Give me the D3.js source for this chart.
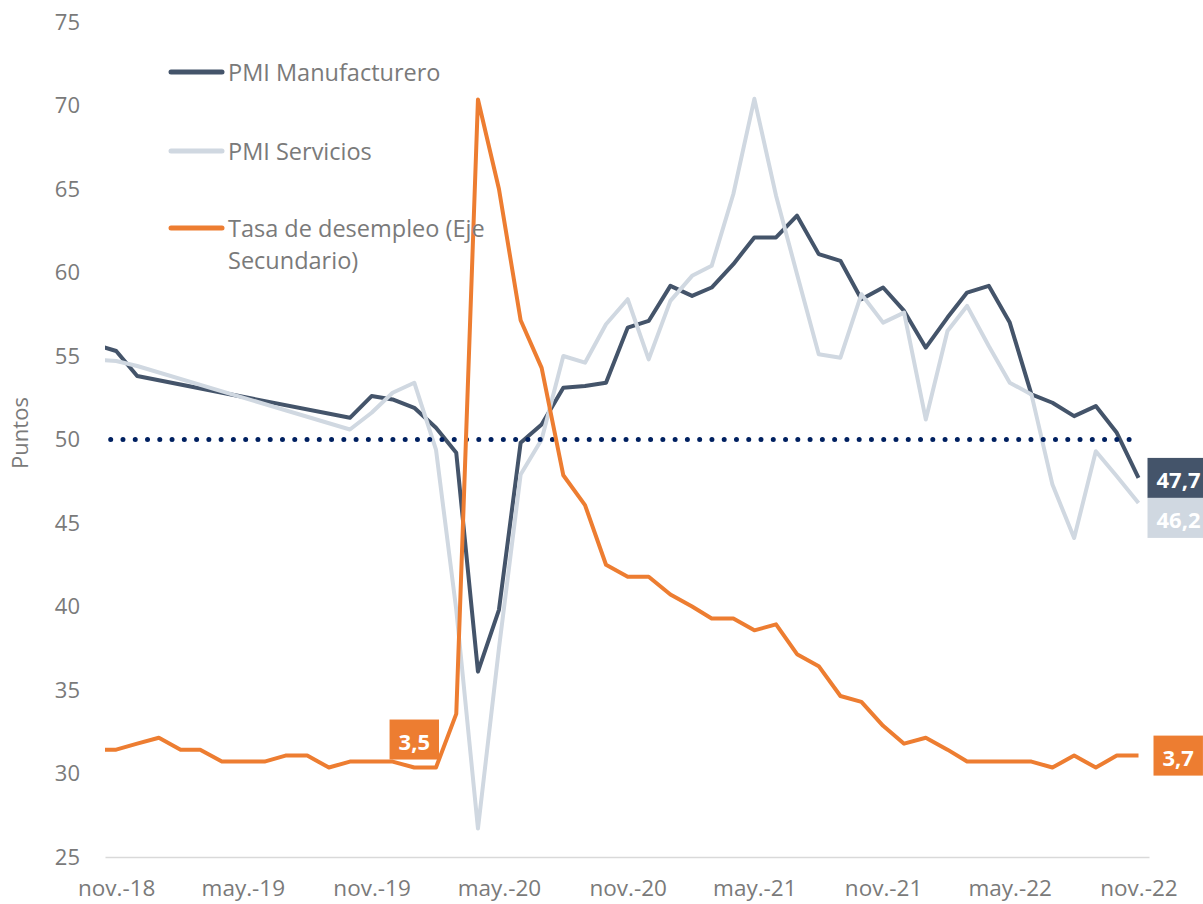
<!DOCTYPE html>
<html>
<head>
<meta charset="utf-8">
<script src="https://cdn.jsdelivr.net/npm/d3@7"></script>
<style>
  html, body { margin: 0; padding: 0; background: #ffffff; }
  svg { display: block; font-family: "Open Sans", "Noto Sans", sans-serif; }
</style>
</head>
<body>
<svg id="chart" width="1203" height="904"></svg>
<script>
// ---------- DATA ----------
const months = [
  "2018-10","2018-11","2018-12","2019-01","2019-02","2019-03","2019-04","2019-05","2019-06","2019-07",
  "2019-08","2019-09","2019-10","2019-11","2019-12","2020-01","2020-02","2020-03","2020-04","2020-05",
  "2020-06","2020-07","2020-08","2020-09","2020-10","2020-11","2020-12","2021-01","2021-02","2021-03",
  "2021-04","2021-05","2021-06","2021-07","2021-08","2021-09","2021-10","2021-11","2021-12","2022-01",
  "2022-02","2022-03","2022-04","2022-05","2022-06","2022-07","2022-08","2022-09","2022-10","2022-11"
];
const pmiManufacturero = [
  55.7, 55.3, 53.8, null, null, null, null, null, null, null,
  null, null, 51.3, 52.6, 52.4, 51.9, 50.7, 49.2, 36.1, 39.8,
  49.8, 50.9, 53.1, 53.2, 53.4, 56.7, 57.1, 59.2, 58.6, 59.1,
  60.5, 62.1, 62.1, 63.4, 61.1, 60.7, 58.4, 59.1, 57.7, 55.5,
  57.3, 58.8, 59.2, 57.0, 52.7, 52.2, 51.4, 52.0, 50.4, 47.7
];
const pmiServicios = [
  54.8, 54.7, 54.4, null, null, null, null, null, null, null,
  null, null, 50.6, 51.6, 52.8, 53.4, 49.4, 39.8, 26.7, 37.5,
  47.9, 50.0, 55.0, 54.6, 56.9, 58.4, 54.8, 58.3, 59.8, 60.4,
  64.7, 70.4, 64.6, 59.9, 55.1, 54.9, 58.7, 57.0, 57.6, 51.2,
  56.5, 58.0, 55.6, 53.4, 52.7, 47.3, 44.1, 49.3, 47.8, 46.2
];
const tasaDesempleo = [
  3.8, 3.8, 3.9, 4.0, 3.8, 3.8, 3.6, 3.6, 3.6, 3.7,
  3.7, 3.5, 3.6, 3.6, 3.6, 3.5, 3.5, 4.4, 14.7, 13.2,
  11.0, 10.2, 8.4, 7.9, 6.9, 6.7, 6.7, 6.4, 6.2, 6.0,
  6.0, 5.8, 5.9, 5.4, 5.2, 4.7, 4.6, 4.2, 3.9, 4.0,
  3.8, 3.6, 3.6, 3.6, 3.6, 3.5, 3.7, 3.5, 3.7, 3.7
];
const referencia = 50;
const tickMonths = ["2018-11","2019-05","2019-11","2020-05","2020-11","2021-05","2021-11","2022-05","2022-11"];
const tickLabels = ["nov.-18","may.-19","nov.-19","may.-20","nov.-20","may.-21","nov.-21","may.-22","nov.-22"];
const yTicks = [25, 30, 35, 40, 45, 50, 55, 60, 65, 70, 75];
const seriesNames = ["PMI Manufacturero", "PMI Servicios", "Tasa de desempleo (Eje Secundario)"];

// ---------- SETUP ----------
const parse = d3.timeParse("%Y-%m");
const dates = months.map(parse);
const svg = d3.select("#chart");
const C = { dark: "#44546A", light: "#D0D8E1", orange: "#ED7D31", navy: "#002060", text: "#7a7a7a", axis: "#d9d9d9" };
const plot = { left: 105, right: 1149, top: 22, bottom: 857 };

const x = d3.scaleTime()
  .domain([new Date(2018, 9, 16), new Date(2022, 10, 16)])
  .range([plot.left, plot.right]);
const y = d3.scaleLinear().domain([25, 75]).range([plot.bottom, plot.top]);
const y2 = d3.scaleLinear().domain([2, 16]).range([plot.bottom, plot.top]);

svg.append("defs").append("clipPath").attr("id", "clip")
  .append("rect").attr("x", plot.left).attr("y", 0)
  .attr("width", plot.right - plot.left).attr("height", 904);

// ---------- AXES ----------
const yAxis = svg.append("g")
  .attr("transform", `translate(${plot.left},0)`)
  .call(d3.axisLeft(y).tickValues(yTicks).tickSize(0).tickPadding(25));
yAxis.select(".domain").remove();
yAxis.selectAll("text").attr("fill", C.text).style("font-size", "22px")
  .style("font-family", "'Open Sans', sans-serif");

const xAxis = svg.append("g")
  .attr("transform", `translate(0,${plot.bottom})`)
  .call(d3.axisBottom(x).tickValues(tickMonths.map(parse))
    .tickFormat((d, i) => tickLabels[i]).tickSize(0).tickSizeOuter(0).tickPadding(23));
xAxis.select(".domain").attr("stroke", C.axis).attr("stroke-width", 1.5);
xAxis.selectAll("text").attr("fill", C.text).style("font-size", "22.5px")
  .style("font-family", "'Open Sans', sans-serif");

svg.append("text")
  .attr("transform", "translate(28,433) rotate(-90)")
  .attr("text-anchor", "middle")
  .attr("fill", C.text).style("font-size", "22px")
  .text("Puntos");

// ---------- LINES ----------
const g = svg.append("g").attr("clip-path", "url(#clip)");
function series(vals) {
  return vals.map((v, i) => ({ date: dates[i], v })).filter(d => d.v !== null);
}
const linePrimary = d3.line().x(d => x(d.date)).y(d => y(d.v));
const lineSecondary = d3.line().x(d => x(d.date)).y(d => y2(d.v));

g.append("path").datum(series(pmiManufacturero)).attr("d", linePrimary)
  .attr("fill", "none").attr("stroke", C.dark).attr("stroke-width", 4)
  .attr("stroke-linejoin", "round");
g.append("path").datum(series(pmiServicios)).attr("d", linePrimary)
  .attr("fill", "none").attr("stroke", C.light).attr("stroke-width", 4)
  .attr("stroke-linejoin", "round");
g.append("path").datum(dates.map(d => ({ date: d, v: referencia }))).attr("d", linePrimary)
  .attr("fill", "none").attr("stroke", C.navy).attr("stroke-width", 5)
  .attr("stroke-linecap", "round").attr("stroke-dasharray", "0 12.27")
  .attr("stroke-dashoffset", 8.34);
g.append("path").datum(series(tasaDesempleo)).attr("d", lineSecondary)
  .attr("fill", "none").attr("stroke", C.orange).attr("stroke-width", 4)
  .attr("stroke-linejoin", "round");

// ---------- LEGEND ----------
const legendItems = [
  { name: [seriesNames[0]], color: C.dark, y: 72 },
  { name: [seriesNames[1]], color: C.light, y: 151 },
  { name: ["Tasa de desempleo (Eje", "Secundario)"], color: C.orange, y: 228 }
];
const lg = svg.append("g");
legendItems.forEach(it => {
  lg.append("line").attr("x1", 171).attr("x2", 222).attr("y1", it.y).attr("y2", it.y)
    .attr("stroke", it.color).attr("stroke-width", 5).attr("stroke-linecap", "round");
  const t = lg.append("text").attr("x", 228).attr("y", it.y)
    .attr("fill", C.text).style("font-size", "23.5px").attr("dominant-baseline", "central");
  it.name.forEach((s, k) => {
    t.append("tspan").attr("x", 228).attr("dy", k === 0 ? 0 : 32).text(s);
  });
});

// ---------- DATA LABELS ----------
const fmt = v => d3.format(".1f")(v).replace(".", ",");
function dataLabel(cx, cy, value, fill, anchor) {
  const grp = svg.append("g");
  const t = grp.append("text").attr("fill", "#ffffff").style("font-size", "22px")
    .style("font-weight", "bold").attr("dominant-baseline", "central").text(fmt(value));
  const w = t.node().getComputedTextLength();
  const bw = w + 18, bh = 40;
  const bx = anchor === "start" ? cx : cx - bw / 2;
  grp.insert("rect", "text").attr("x", bx).attr("y", cy - bh / 2)
    .attr("width", bw).attr("height", bh).attr("fill", fill);
  t.attr("x", bx + 9).attr("y", cy + 1);
  return { bx, by: cy - bh / 2, bw, bh };
}
const last = dates.length - 1;
const lblM = dataLabel(x(dates[last]) + 9, y(pmiManufacturero[last]), pmiManufacturero[last], C.dark, "start");
dataLabel(x(dates[last]) + 9, lblM.by + lblM.bh + 20, pmiServicios[last], C.light, "start");
dataLabel(x(dates[last]) + 15, y2(tasaDesempleo[last]), tasaDesempleo[last], C.orange, "start");
const iJan20 = months.indexOf("2020-01");
dataLabel(x(dates[iJan20]), y2(tasaDesempleo[iJan20]) - 28, tasaDesempleo[iJan20], C.orange, "middle");
</script>
</body>
</html>
